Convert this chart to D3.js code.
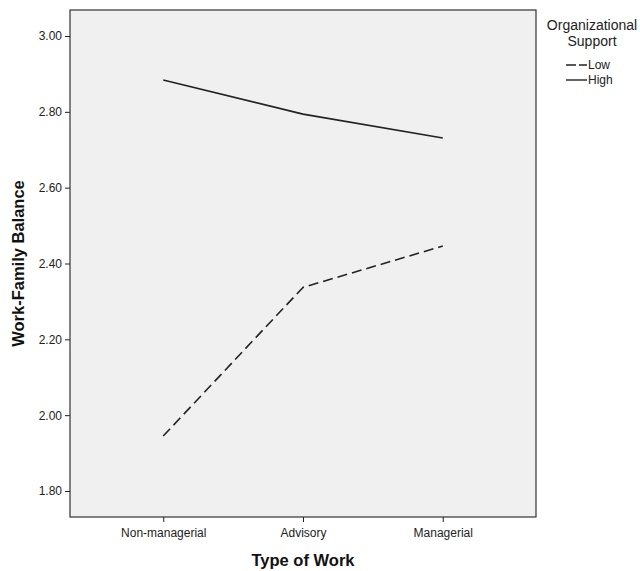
<!DOCTYPE html>
<html>
<head>
<meta charset="utf-8">
<script src="https://cdn.jsdelivr.net/npm/d3@7"></script>
<style>
  body { margin: 0; background: #fff; font-family: "Liberation Sans", Arial, sans-serif; }
  .axis text { font-size: 12px; fill: #222; }
  .axis path, .axis line { stroke: #222; }
</style>
</head>
<body>
<div id="chart-area"></div>
<script>
let categories = ["Non-managerial", "Advisory", "Managerial"];
let seriesNames = ["Low", "High"];
let lowValues = [1.945, 2.337, 2.446];
let highValues = [2.884, 2.794, 2.731];
let yTicks = [1.80, 2.00, 2.20, 2.40, 2.60, 2.80, 3.00];

let margin = {top: 10, right: 104, bottom: 54, left: 70},
  width = 640 - margin.left - margin.right,
  height = 571 - margin.top - margin.bottom;

let svg = d3.select("#chart-area")
  .append("svg")
  .attr("width", 640)
  .attr("height", 571);

let g = svg.append("g")
  .attr("transform", "translate(" + margin.left + "," + margin.top + ")");

let x = d3.scalePoint().domain(categories).range([0, width]).padding(0.667);
let y = d3.scaleLinear().domain([1.7314, 3.0686]).range([height, 0]);

// plot background
g.append("rect")
  .attr("width", width)
  .attr("height", height)
  .attr("fill", "#f0f0f0")
  .attr("stroke", "#333")
  .attr("stroke-width", 1.2);

let yAxis = d3.axisLeft(y).tickValues(yTicks).tickSize(5).tickFormat(d3.format(".2f"));
let xAxis = d3.axisBottom(x).tickSize(5);

g.append("g").attr("class", "y-axis axis").call(yAxis)
  .call(s => s.select(".domain").remove());
g.append("g").attr("class", "x-axis axis")
  .attr("transform", "translate(0," + height + ")")
  .call(xAxis)
  .call(s => s.select(".domain").remove());

g.selectAll(".x-axis text").attr("dy", "1.0em");

let line = d3.line()
  .x(function(d, i) { return x(categories[i]); })
  .y(function(d) { return y(d); });

let series = [
  {name: seriesNames[0], values: lowValues, dash: "10,5"},
  {name: seriesNames[1], values: highValues, dash: null}
];

g.selectAll(".series")
  .data(series)
  .enter()
  .append("path")
  .attr("class", "series")
  .attr("d", d => line(d.values))
  .attr("fill", "none")
  .attr("stroke", "#222")
  .attr("stroke-width", 1.6)
  .attr("stroke-dasharray", d => d.dash);

// axis titles
svg.append("text")
  .attr("x", margin.left + width / 2)
  .attr("y", 566)
  .attr("text-anchor", "middle")
  .style("font-weight", "bold")
  .style("font-size", "16.5px")
  .attr("fill", "#111")
  .text("Type of Work");

svg.append("text")
  .attr("transform", "translate(24," + (margin.top + height / 2) + ") rotate(-90)")
  .attr("text-anchor", "middle")
  .style("font-weight", "bold")
  .style("font-size", "16.5px")
  .attr("fill", "#111")
  .text("Work-Family Balance");

// legend
let legend = svg.append("g").attr("transform", "translate(592,0)");
legend.append("text").attr("y", 30).attr("text-anchor", "middle")
  .style("font-size", "14px").attr("fill", "#222").text("Organizational");
legend.append("text").attr("y", 46).attr("text-anchor", "middle")
  .style("font-size", "14px").attr("fill", "#222").text("Support");

let items = legend.selectAll(".legend-item")
  .data(series)
  .enter()
  .append("g")
  .attr("class", "legend-item")
  .attr("transform", (d, i) => "translate(0," + (65 + i * 15) + ")");

items.append("line")
  .attr("x1", -26).attr("x2", -5)
  .attr("stroke", "#222")
  .attr("stroke-width", 1.4)
  .attr("stroke-dasharray", d => d.dash ? "10,3" : null);

items.append("text")
  .attr("x", -4)
  .attr("dy", "0.35em")
  .style("font-size", "12px")
  .attr("fill", "#222")
  .text(d => d.name);
</script>
</body>
</html>
